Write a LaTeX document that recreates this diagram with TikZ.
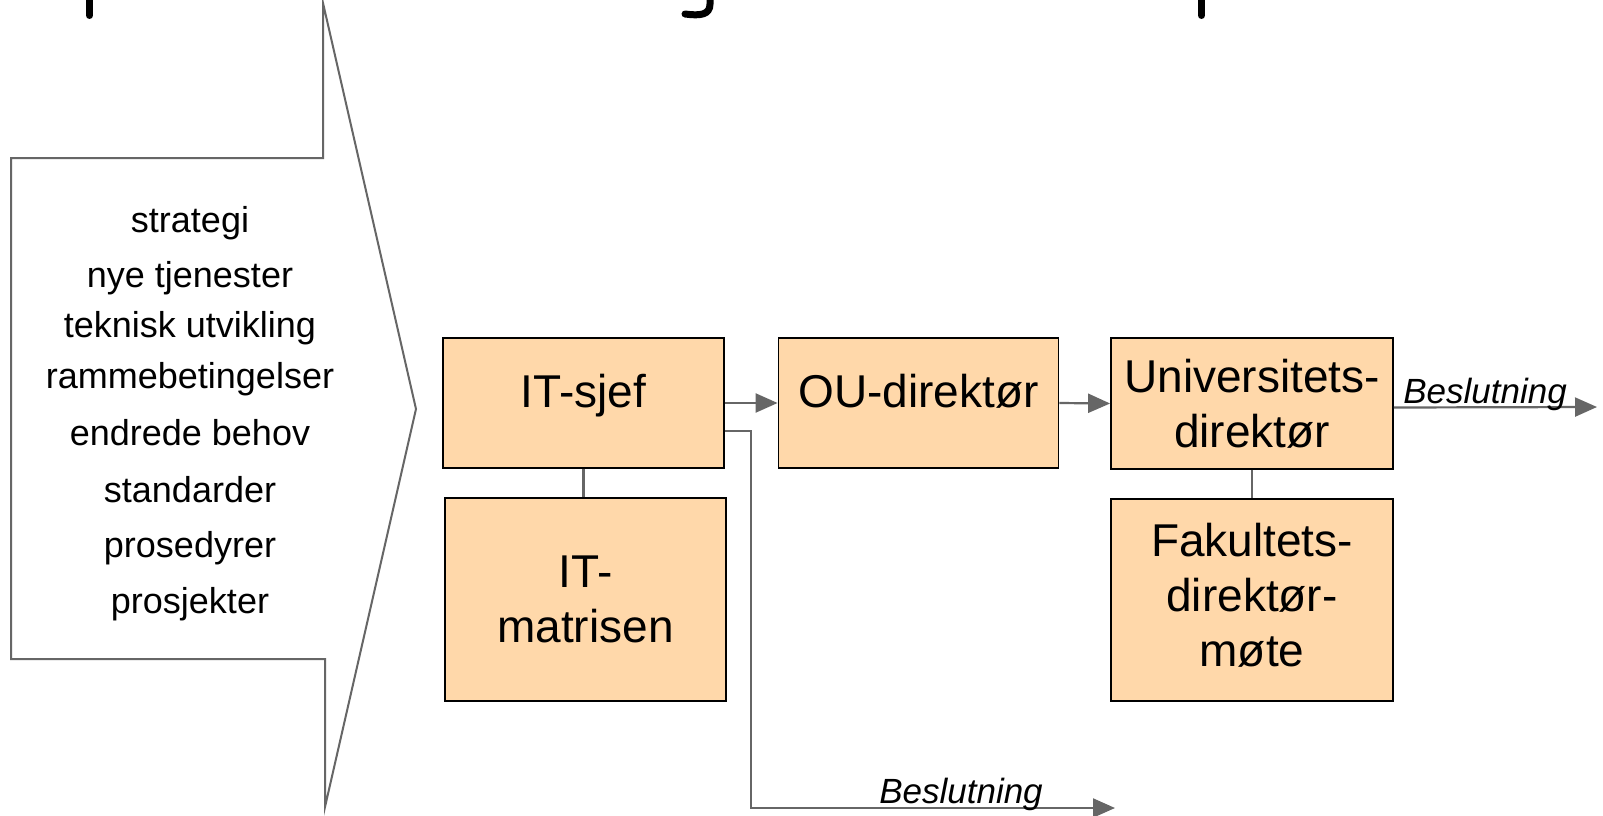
\documentclass[tikz,border=0pt]{standalone}
\usepackage{fontspec}
\setmainfont{Liberation Sans}
\usetikzlibrary{arrows.meta}
\definecolor{peach}{HTML}{FFD8AA}
\definecolor{linegray}{HTML}{666666}
\tikzset{
  box/.style={draw=black, line width=1.8pt, fill=peach, align=center, inner sep=0pt,
    font=\fontsize{46}{55}\selectfont},
  oneline/.style={text height=33pt, text depth=25pt},
  link/.style={draw=linegray, line width=2.2pt},
  flow/.style={link, -{Triangle[length=22pt,width=19pt]}},
  factor/.style={anchor=base, inner sep=0pt, font=\fontsize{36}{43}\selectfont},
  decision/.style={anchor=base, inner sep=0pt, font=\fontsize{35}{40}\selectfont\itshape}
}
\begin{document}
\begin{tikzpicture}[x=1pt,y=-1pt]
\useasboundingbox[fill=white] (0,0) rectangle (1603,816);

% remains of the title above the cut
\draw[line width=7pt, line cap=round] (89.5,-8) -- (89.5,15.5);
\draw[line width=7pt, line cap=round] (1201.5,-8) -- (1201.5,15.5);
\draw[line width=7pt, line cap=round] (710,-8) -- (710,4) .. controls (710,15) and (700,16) .. (685,14);

% input arrow
\draw[draw=linegray, line width=2pt, fill=white]
  (323,3) -- (323,158) -- (11,158) -- (11,659) -- (325,659) -- (325,807) -- (416,409) -- cycle;

\node[factor] (f1) at (190,232) {strategi};
\node[factor] (f2) at (190,287) {nye tjenester};
\node[factor] (f3) at (190,337) {teknisk utvikling};
\node[factor] (f4) at (190,388) {rammebetingelser};
\node[factor] (f5) at (190,445) {endrede behov};
\node[factor] (f6) at (190,502) {standarder};
\node[factor] (f7) at (190,557) {prosedyrer};
\node[factor] (f8) at (190,613) {prosjekter};

% decision boxes
\node[box, oneline, minimum width=281pt, minimum height=130pt] (itsjef) at (583.5,403) {IT-sjef};
\node[box, minimum width=281pt, minimum height=203pt] (itmat) at (585.5,599.5) {IT-\\matrisen};
\node[box, oneline, minimum width=280pt, minimum height=130pt] (ou) at (918.5,403) {OU-direktør};
\node[box, minimum width=282pt, minimum height=131pt] (univ) at (1252,403.5) {Universitets-\\direktør};
\node[box, text depth=10pt, minimum width=282pt, minimum height=202pt] (fak) at (1252,600) {Fakultets-\\direktør-\\møte};

\coordinate (dec1) at (1115,808);
\coordinate (dec2) at (1597,407);

\path[link] (itsjef.south) -- (itsjef.south |- itmat.north);
\path[link] (univ.south) -- (fak.north);

\path[flow] (itsjef.east) -- (ou.west);
\path[flow] (ou.east) -- (univ.west);
\path[flow] ([yshift=-28pt]itsjef.east) -- ++(26,0) |- (dec1);
\path[flow] ([yshift=-4pt]univ.east) -- (dec2);

\node[decision] (b1) at (961,803) {Beslutning};
\node[decision] (b2) at (1485,403) {Beslutning};
\end{tikzpicture}
\end{document}
